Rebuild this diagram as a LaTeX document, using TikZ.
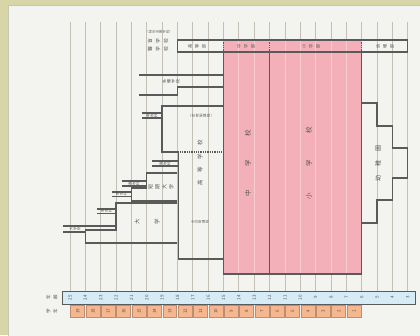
\documentclass[tikz,border=0pt]{standalone}
\usepackage{fontspec}
\setmainfont{Noto Sans CJK JP}
\usepackage{tikz}
\definecolor{kkframe}{HTML}{D8D5A8}
\definecolor{kkpanel}{HTML}{F3F3EF}
\definecolor{kkrim}{HTML}{C8C6B2}
\definecolor{kkgrid}{HTML}{C4C0B6}
\definecolor{kkedge}{HTML}{5A5A5A}
\definecolor{kkpink}{HTML}{F4B0B8}
\definecolor{kkpinkline}{HTML}{F8CBD0}
\definecolor{kkblue}{HTML}{D5ECF6}
\definecolor{kkorange}{HTML}{F6B68E}
\definecolor{kkcell}{HTML}{B98E72}
\definecolor{kktext}{HTML}{555555}

\begin{document}
\begin{tikzpicture}[
  x=1pt,y=-1pt,
  grid/.style={draw=kkgrid,line width=0.8pt},
  pinkgrid/.style={draw=kkpinkline,line width=0.8pt},
  edge/.style={draw=kkedge,line width=1.3pt},
  sep/.style={draw=kkedge,line width=1.3pt,densely dotted},
  tate/.style={rotate=90,align=center,inner sep=0pt,text=kktext},
  yoko/.style={rotate=90,inner sep=0pt,text=kktext},
  senko/.style={tate,font=\fontsize{3.4}{3.9}\selectfont},
  num/.style={rotate=90,inner sep=0pt,text=kktext,font=\fontsize{4.5}{5}\selectfont},
  cell/.style={draw=kkcell,fill=kkorange,line width=0.6pt}
]
\useasboundingbox (0,0) rectangle (420,335);
\fill[kkframe] (0,0) rectangle (420,335);
\filldraw[fill=kkpanel,draw=kkrim] (8,5) rectangle (421,336);

% age lines
\foreach \a in {3,...,25}{
  \pgfmathsetmacro\xx{453.75-15.35*\a}
  \draw[grid] (\xx,22) -- (\xx,291);
}

% elementary + lower secondary
\fill[kkpink] (223.5,40) rectangle (361.65,274);
\foreach \a in {7,...,14}{
  \pgfmathsetmacro\xx{453.75-15.35*\a}
  \draw[pinkgrid] (\xx,40) -- (\xx,274);
}
\draw[edge] (177.45,40) rectangle (407.7,52);
\foreach \xx in {223.5,269.55,361.65} \draw[sep] (\xx,40) -- (\xx,52);
\draw[edge] (223.5,52) -- (223.5,274) -- (361.65,274) -- (361.65,52);
\draw[edge] (269.55,52) -- (269.55,274);

% kindergarten
\draw[edge] (361.65,103) -- (377,103) -- (377,126) -- (392.35,126) -- (392.35,148) -- (407.7,148)
  -- (407.7,178) -- (392.35,178) -- (392.35,200) -- (377,200) -- (377,223) -- (361.65,223);

% upper secondary and beyond
\draw[edge] (139,75) -- (223.5,75);
\draw[edge] (139,95) -- (177.45,95) -- (177.45,87) -- (223.5,87);
\draw[edge] (223.5,106) -- (162.1,106) -- (162.1,152) -- (177.45,152);
\draw[sep] (177.45,152) -- (223.5,152);
\draw[edge] (178.5,152) -- (178.5,259) -- (223.5,259);
\draw[edge] (177.45,173) -- (146.75,173) -- (146.75,188) -- (131.4,188) -- (131.4,201) -- (177.45,201);
\draw[edge] (177.45,203) -- (116.05,203) -- (116.05,230) -- (85.35,230) -- (85.35,243) -- (177.45,243);

% side courses
\draw[edge] (142,113) -- (162.1,113) (142,118) -- (162.1,118);
\draw[edge] (152,161) -- (178.5,161) (152,166) -- (178.5,166);
\draw[edge] (122,181) -- (146.75,181) (122,186) -- (146.75,186);
\draw[edge] (112,192) -- (131.4,192) (112,196.5) -- (131.4,196.5);
\draw[edge] (97,209) -- (116.05,209) (97,213.5) -- (116.05,213.5);
\draw[edge] (63,226) -- (116.05,226) (63,232) -- (85.35,232);

\node[senko] (sk1) at (152,115.5) {専\\攻\\科};
\node[senko] (sk2) at (165,163.5) {専\\攻\\科};
\node[senko] (sk3) at (134,183.5) {専\\攻\\科};
\node[senko] (sk4) at (121.5,194.2) {専\\攻\\科};
\node[senko] (sk5) at (106.5,211.2) {専\\攻\\科};
\node[senko] (inn) at (75,229) {大\\学\\院};

% labels
\node[tate,font=\fontsize{3.2}{3.4}\selectfont] (tokushi) at (160,32) {︵\\特\\別\\支\\援\\学\\校\\︶};
\node[tate,font=\fontsize{4.8}{8}\selectfont] (mou) at (158,41) {盲\\学\\校};
\node[tate,font=\fontsize{4.8}{8}\selectfont] (rou) at (158,49.5) {聾\\学\\校};
\node[tate,font=\fontsize{4.2}{7}\selectfont] (kotobu) at (197,46) {高\\等\\部};
\node[tate,font=\fontsize{4.2}{7}\selectfont] (chubu) at (246,46) {中\\学\\部};
\node[tate,font=\fontsize{4.2}{7}\selectfont] (shobu) at (311,46) {小\\学\\部};
\node[tate,font=\fontsize{4.2}{7}\selectfont] (yobu) at (385,46) {幼\\稚\\部};
\node[tate,font=\fontsize{4}{4.5}\selectfont] (kakushu) at (171,81) {各\\種\\学\\校};
\node[tate,font=\fontsize{3.4}{3.8}\selectfont] (teiji) at (202,116) {︵\\定\\時\\制\\課\\程\\︶};
\node[tate,font=\fontsize{3.2}{3.6}\selectfont] (zennichi) at (200,222) {全\\日\\制\\課\\程};
\node[tate,font=\fontsize{5}{7}\selectfont] (tandai) at (161,187) {短\\期\\大\\学};
\node[tate,font=\fontsize{5.5}{20}\selectfont] (daigaku) at (147,222) {大\\学};
\node[yoko,font=\fontsize{5.5}{6}\selectfont] (koko) at (200,163) {高\hspace{7.8pt}等\hspace{7.8pt}学\hspace{7.8pt}校};
\node[yoko,font=\fontsize{6.5}{7}\selectfont] (chu) at (248,163) {中\hspace{23.5pt}学\hspace{23.5pt}校};
\node[yoko,font=\fontsize{6.5}{7}\selectfont] (sho) at (309,163) {小\hspace{26.5pt}学\hspace{26.5pt}校};
\node[yoko,font=\fontsize{6}{7}\selectfont] (yochi) at (378,163) {幼\hspace{9pt}稚\hspace{9pt}園};

% age and grade rows
\node[tate,font=\fontsize{4.5}{7}\selectfont] (nenrei) at (52,297.5) {年\\齢};
\node[tate,font=\fontsize{4.5}{7}\selectfont] (gakunen) at (52,311) {学\\年};
\draw[fill=kkblue,draw=kkedge,line width=1pt] (62.3,291) rectangle (415.4,304);
\foreach \a in {3,...,25}{
  \pgfmathsetmacro\xx{453.75-15.35*\a}
  \node[num] (age\a) at (\xx,297.5) {\a};
}
\foreach \g in {1,...,19}{
  \pgfmathsetmacro\xl{453.75-15.35*(6+\g)+0.7}
  \pgfmathsetmacro\xr{453.75-15.35*(5+\g)-0.7}
  \pgfmathsetmacro\xc{453.75-15.35*(5.5+\g)}
  \draw[cell] (\xl,304.8) rectangle (\xr,317.5);
  \node[num] (gr\g) at (\xc,311.2) {\g};
}
\end{tikzpicture}
\end{document}
